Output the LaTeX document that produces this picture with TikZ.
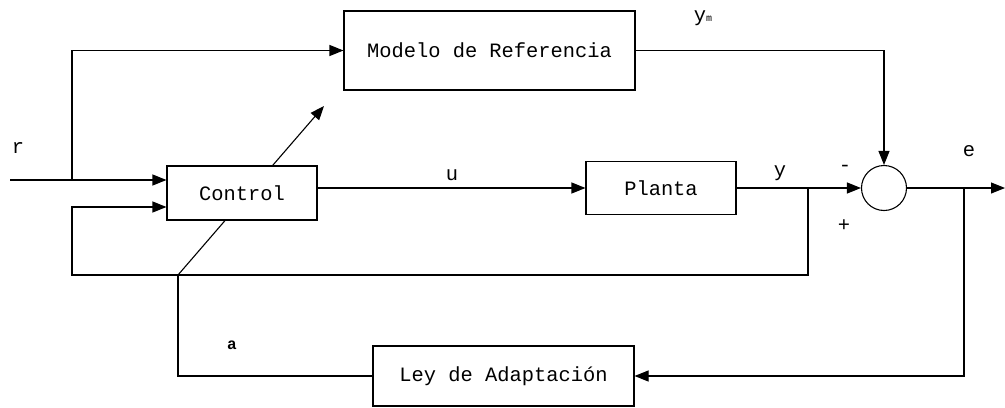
\documentclass[tikz,border=0pt]{standalone}
\usepackage{fontspec}
\setmainfont{Liberation Mono}
\usetikzlibrary{arrows.meta, positioning}

\tikzset{
    blk/.style={draw, fill=white, line width=.55pt, inner sep=0pt},
    sig/.style={line width=.55pt},
    lbl/.style={inner sep=0pt, font=\fontsize{10.2}{12}\selectfont}
}

\begin{document}
\begin{tikzpicture}[x=.5pt, y=-.5pt, >={Triangle[length=7pt,width=5.5pt]}]
\useasboundingbox (0,0) rectangle (1005,407);

% puntos auxiliares
\coordinate (rin) at (10,180);
\coordinate (rb) at (72,180);
\coordinate (fi) at (72,207);
\coordinate (fl) at (72,275);
\coordinate (fb) at (808,188);
\coordinate (eb) at (964,188);
\coordinate (eout) at (1005,188);
\coordinate (da) at (178,275);
\coordinate (db) at (324,106);

% flecha de ajuste (queda tapada por el bloque)
\draw[sig, ->] (da) -- (db);

% bloques
\node[blk, minimum width=145.5pt, minimum height=39.5pt] (modelo) at (489.5,50.5) {\fontsize{10.2}{12}\selectfont Modelo de Referencia};
\node[blk, minimum width=75pt, minimum height=27pt] (control) at (242,193) {\fontsize{10.2}{12}\selectfont Control};
\node[blk, minimum width=75pt, minimum height=26.5pt] (planta) at (661,188) {\fontsize{10.2}{12}\selectfont Planta};
\node[blk, minimum width=130.5pt, minimum height=30pt] (ley) at (503.5,376) {\fontsize{10.2}{12}\selectfont Ley de Adaptación};
\node[draw, circle, line width=.55pt, minimum size=22.5pt, inner sep=0pt] (sum) at (884,188) {};

% senales
\draw[sig, ->] (rin) -- (control.west |- rin);
\draw[sig, ->] (rb) |- (modelo.west);
\draw[sig, ->] (control.east |- planta.west) -- (planta.west);
\draw[sig, ->] (planta.east) -- (sum.west);
\draw[sig, ->] (modelo.east) -| (sum.north);
\draw[sig, ->] (sum.east) -- (eout);
\draw[sig, ->] (eb) |- (ley.east);
\draw[sig, ->] (fb) |- (fl) |- (control.west |- fi);
\draw[sig] (ley.west) -| (da);

% etiquetas
\node[lbl] (lr) at (18,148) {r};
\node[lbl] (lu) at (452,175) {u};
\node[lbl] (ly) at (780,173) {y};
\node[lbl] (lym) at (703,18) {y{\tiny m}};
\node[lbl] (le) at (969,151) {e};
\node[lbl] (lmenos) at (845,168) {-};
\node[lbl] (lmas) at (844,226) {+};
\node[lbl, font=\footnotesize\bfseries] (la) at (232,345) {a};

\end{tikzpicture}
\end{document}
